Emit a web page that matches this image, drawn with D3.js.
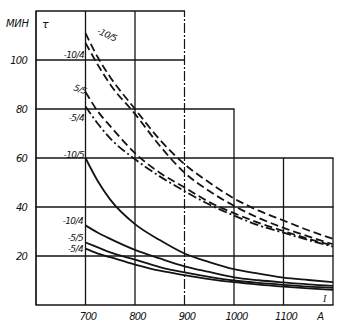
<!DOCTYPE html>
<html>
<head>
<meta charset="utf-8">
<script src="https://cdn.jsdelivr.net/npm/d3@7"></script>
<style>
  html, body { margin: 0; padding: 0; background: #fff; }
  svg { display: block; }
  text { font-family: "DejaVu Sans", sans-serif; font-style: italic; fill: #111; }
</style>
</head>
<body>
<svg id="chart" width="340" height="328"></svg>
<script>
// Current, A
const currents = [700, 725, 750, 800, 850, 900, 950, 1000, 1050, 1100, 1150, 1200];

// Time, min — dashed family
const dashM10_5 = [111, 101, 93, 80, 67.5, 57.5, 50, 43.5, 38.5, 34.5, 30.5, 27];
const dashM10_4 = [107, 98, 90, 78, 65, 54, 46.5, 40.5, 35.5, 31.5, 28, 24.8];
const dashP5_5  = [87, 79, 73, 62, 54, 48, 42, 37.5, 33.5, 30.2, 27, 24.3];
const dashM5_4  = [81, 74, 68, 59.5, 52.5, 46.5, 41, 36.5, 32.5, 29.5, 26.5, 23.8];

// Time, min — solid family
const solidM10_5 = [60, 50.5, 43, 33, 26.5, 21, 17.5, 14.6, 12.8, 11.2, 10.2, 9.3];
const solidM10_4 = [32.5, 29.5, 27, 22.5, 19, 15.8, 13.5, 11.3, 10.1, 9.2, 8.4, 7.8];
const solidM5_5  = [25.5, 23.5, 21.5, 18.5, 15.5, 13.3, 11.5, 10, 9, 8.2, 7.5, 7];
const solidM5_4  = [23, 21, 19.5, 16.5, 14, 12.2, 10.6, 9.3, 8.3, 7.5, 6.8, 6.2];

const curveLabels = ["-10/5", "-10/4", "5/5", "-5/4", "-10/5", "-10/4", "-5/5", "-5/4"];

const xTicks = [700, 800, 900, 1000, 1100];
const yTicks = [20, 40, 60, 80, 100];

// Grid segments: horizontal [time, fromCurrent, toCurrent], vertical [current, fromTime, toTime]
const hGrid = [[120, 600, 900], [100, 600, 900], [80, 600, 1000], [60, 600, 1200], [40, 600, 1200], [20, 600, 1200], [0, 600, 1200]];
const vGrid = [[600, 0, 120], [700, 0, 120], [800, 0, 120], [1000, 0, 80], [1100, 0, 60], [1200, 0, 60]];
const vGridBroken = [[900, 0, 120]];

const svg = d3.select("#chart");
const x = d3.scaleLinear().domain([600, 1200]).range([36, 333]);
const y = d3.scaleLinear().domain([0, 120]).range([305, 11]);
const ink = "#141414";

const grid = svg.append("g").attr("stroke", ink).attr("fill", "none");
grid.selectAll("line.h").data(hGrid).join("line")
  .attr("class", "h")
  .attr("x1", d => x(d[1]) - 0.5).attr("x2", d => x(d[2]) + 0.5)
  .attr("y1", d => y(d[0])).attr("y2", d => y(d[0]))
  .attr("stroke-width", d => (d[0] === 0 || d[0] === 120) ? 1.7 : 1.4);
grid.selectAll("line.v").data(vGrid).join("line")
  .attr("class", "v")
  .attr("x1", d => x(d[0])).attr("x2", d => x(d[0]))
  .attr("y1", d => y(d[1])).attr("y2", d => y(d[2]))
  .attr("stroke-width", d => d[0] === 600 ? 1.7 : 1.3);
grid.selectAll("line.vb").data(vGridBroken).join("line")
  .attr("class", "vb")
  .attr("x1", d => x(d[0])).attr("x2", d => x(d[0]))
  .attr("y1", d => y(d[1])).attr("y2", d => y(d[2]))
  .attr("stroke-width", 1.2)
  .attr("stroke-dasharray", "10,2,2,2");

// Curves
const series = [
  { v: dashM10_5, dash: "8,4" },
  { v: dashM10_4, dash: "8,4" },
  { v: dashP5_5, dash: "8,4" },
  { v: dashM5_4, dash: "9,3,2,3" },
  { v: solidM10_5, dash: null },
  { v: solidM10_4, dash: null },
  { v: solidM5_5, dash: null },
  { v: solidM5_4, dash: null }
];
const line = d3.line()
  .x(d => x(d[0])).y(d => y(d[1]))
  .curve(d3.curveMonotoneX);

svg.append("g").selectAll("path").data(series).join("path")
  .attr("d", s => line(currents.map((c, i) => [c, s.v[i]])))
  .attr("fill", "none")
  .attr("stroke", ink)
  .attr("stroke-width", 1.8)
  .attr("stroke-dasharray", s => s.dash);

// Axes tick labels
const yAxis = d3.axisLeft(y).tickValues(yTicks).tickSize(0).tickPadding(9).tickFormat(d3.format("d"));
const gy = svg.append("g").attr("transform", `translate(${x(600)},0)`).call(yAxis);
gy.select(".domain").remove();
gy.selectAll("text")
  .style("font-family", "DejaVu Sans").style("font-style", "italic")
  .attr("font-size", 10).attr("letter-spacing", "-0.8").attr("fill", ink);

const xAxis = d3.axisBottom(x).tickValues(xTicks).tickSize(0).tickPadding(8).tickFormat(d3.format("d"));
const gx = svg.append("g").attr("transform", `translate(0,${y(0)})`).call(xAxis);
gx.select(".domain").remove();
gx.selectAll("text")
  .attr("dx", 2)
  .style("font-family", "DejaVu Sans").style("font-style", "italic")
  .attr("font-size", 10).attr("letter-spacing", "-0.8").attr("fill", ink);

// Units
svg.append("text").attr("x", 6).attr("y", 27).attr("font-size", 10).attr("letter-spacing", "-0.3").text("МИН");
svg.append("text").attr("x", 42).attr("y", 28).attr("font-size", 11).text("τ");
svg.append("text").attr("x", x(1168)).attr("y", 320).attr("font-size", 10).text("A");
svg.append("text").attr("x", x(1180)).attr("y", 302).attr("font-size", 10)
  .style("font-family", "Liberation Serif").text("I");

// Curve labels
const labelPos = [
  { i: 0, cx: 722, t: 111, rot: 25, anchor: "start" },
  { i: 1, cx: 697, t: 101, rot: 0, anchor: "end" },
  { i: 2, cx: 699, t: 86, rot: 20, anchor: "end" },
  { i: 3, cx: 697, t: 75, rot: 0, anchor: "end" },
  { i: 4, cx: 697, t: 60, rot: 0, anchor: "end" },
  { i: 5, cx: 695, t: 33, rot: 0, anchor: "end" },
  { i: 6, cx: 695, t: 26, rot: 0, anchor: "end" },
  { i: 7, cx: 695, t: 21.5, rot: 0, anchor: "end" }
];
svg.append("g").selectAll("text").data(labelPos).join("text")
  .attr("transform", d => `translate(${x(d.cx)},${y(d.t)}) rotate(${d.rot})`)
  .attr("text-anchor", d => d.anchor)
  .attr("font-size", 9)
  .attr("letter-spacing", "-0.6")
  .text(d => curveLabels[d.i]);
</script>
</body>
</html>
